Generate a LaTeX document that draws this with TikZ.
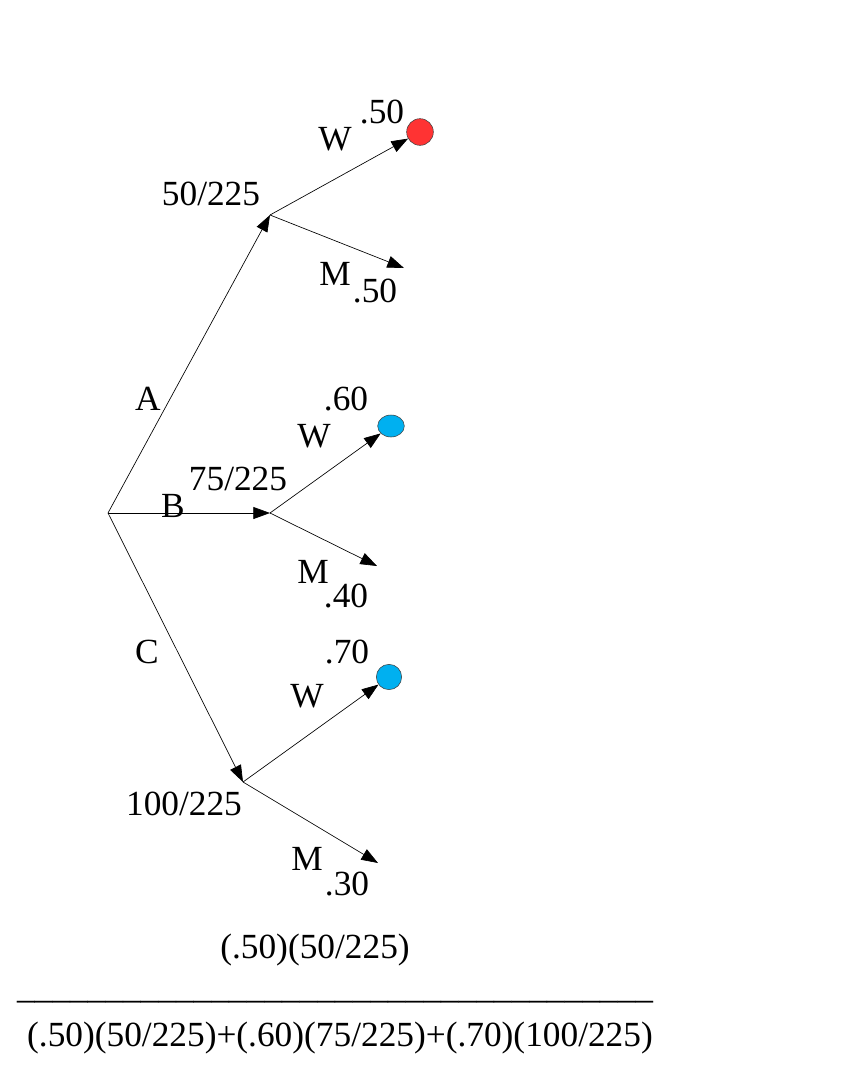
\documentclass[tikz,border=0pt]{standalone}
\usepackage{fontspec}
\setmainfont{Liberation Serif}
\usepackage{xcolor}
\usetikzlibrary{arrows.meta, positioning, shapes.geometric}

\definecolor{dotred}{RGB}{255,51,51}
\definecolor{dotblue}{RGB}{0,176,240}

\begin{document}
\begin{tikzpicture}[x=0.75pt,y=-0.75pt,>={Triangle[length=12.5pt,width=9pt]},
  lbl/.style={font=\fontsize{26.5}{32}\selectfont, anchor=base, inner sep=0pt},
  dot/.style={draw=black!75, fill=#1, circle, minimum size=20pt, inner sep=0pt},
  every edge/.style={draw, line width=0.5pt}]
\useasboundingbox (0,0) rectangle (845,1079);

% branch points
\coordinate (root) at (108,513);
\coordinate (a) at (270,215);
\coordinate (b) at (270,513);
\coordinate (c) at (243,782);

% leaves
\node[dot=dotred] (aw) at (420,132) {};
\coordinate (am) at (404,268);
\node[dot=dotblue, ellipse, minimum width=20pt, minimum height=16.5pt] (bw) at (391,426) {};
\coordinate (bm) at (377,566);
\node[dot=dotblue, minimum size=19pt] (cw) at (389,677) {};
\coordinate (cm) at (378,863);

\path[->]
(root) edge (a)
(root) edge (b)
(root) edge (c)
(a) edge (aw)
(a) edge (am)
(b) edge (bw)
(b) edge (bm)
(c) edge (cw)
(c) edge (cm)
;

% labels
\node[lbl] (la) at (148,410) {A};
\node[lbl] (lb) at (173,517) {B};
\node[lbl] (lc) at (147,663) {C};
\node[lbl] (pa) at (211,205) {50/225};
\node[lbl] (pb) at (238,490) {75/225};
\node[lbl] (pc) at (184,815) {100/225};

\node[lbl] (law) at (335,150) {W};
\node[lbl] (paw) at (382,123) {.50};
\node[lbl] (lam) at (335,285) {M};
\node[lbl] (pam) at (375,302) {.50};

\node[lbl] (lbw) at (314,447) {W};
\node[lbl] (pbw) at (346,410) {.60};
\node[lbl] (lbm) at (313,583) {M};
\node[lbl] (pbm) at (346,607) {.40};

\node[lbl] (lcw) at (307,707) {W};
\node[lbl] (pcw) at (347,663) {.70};
\node[lbl] (lcm) at (307,870) {M};
\node[lbl] (pcm) at (347,895) {.30};

% Bayes quotient
\node[lbl] (num) at (315,958) {(.50)(50/225)};
\node[lbl] (bar) at (335,998) {\_\_\_\_\_\_\_\_\_\_\_\_\_\_\_\_\_\_\_\_\_\_\_\_\_\_\_\_\_\_\_\_\_\_\_\_};
\node[lbl] (den) at (340,1046) {(.50)(50/225)+(.60)(75/225)+(.70)(100/225)};
\end{tikzpicture}
\end{document}
